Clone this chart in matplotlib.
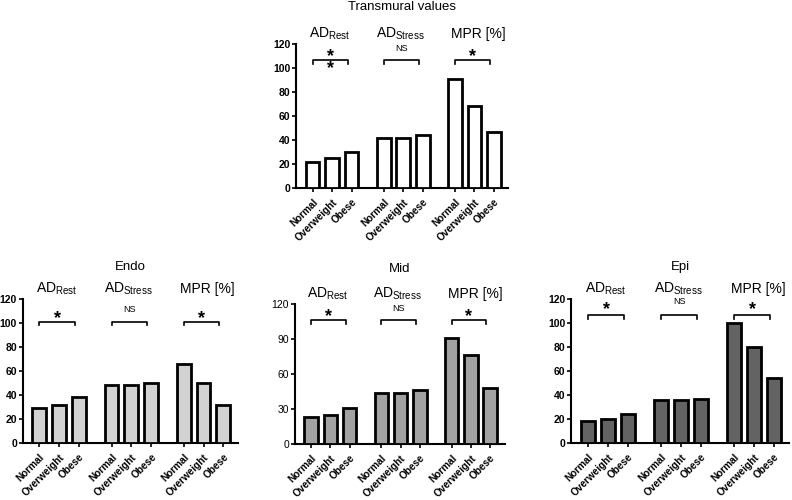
import matplotlib
matplotlib.use("Agg")
import matplotlib.pyplot as plt

plt.rcParams['font.family'] = ['Liberation Sans', 'DejaVu Sans']
plt.rcParams['mathtext.fontset'] = 'custom'
plt.rcParams['mathtext.rm'] = 'Liberation Sans'
plt.rcParams['mathtext.it'] = 'Liberation Sans'

categories = ["Normal", "Overweight", "Obese"]
groups = [r"AD$_{\mathrm{Rest}}$", r"AD$_{\mathrm{Stress}}$", "MPR [%]"]
sig = ["*", "NS", "*"]

transmural = [[22, 25, 30], [42, 42, 44], [91, 68, 46.5]]
endo = [[29, 32, 38], [48, 48, 50], [65.5, 50, 31.5]]
mid = [[23, 25, 31], [44, 44, 46], [91, 76, 48]]
epi = [[18, 20, 24], [36, 36, 37], [100, 80, 54]]

panels = [
    dict(title="Transmural values", data=transmural, color="#ffffff",
         rect=[0.3737, 0.624, 0.2683, 0.288], yticks=[0, 20, 40, 60, 80, 100, 120],
         bold_y=True, br=106.5, star=115, ns=116, tpad=27, double=True),
    dict(title="Endo", data=endo, color="#d2d2d2",
         rect=[0.0285, 0.114, 0.2722, 0.288], yticks=[0, 20, 40, 60, 80, 100, 120],
         bold_y=True, br=101, star=109, ns=111, tpad=23, double=False),
    dict(title="Mid", data=mid, color="#a2a2a2",
         rect=[0.372, 0.112, 0.265, 0.280], yticks=[0, 30, 60, 90, 120],
         bold_y=False, br=106, star=115, ns=116.5, tpad=25, double=False),
    dict(title="Epi", data=epi, color="#636363",
         rect=[0.721, 0.114, 0.2753, 0.288], yticks=[0, 20, 40, 60, 80, 100, 120],
         bold_y=True, br=106.5, star=116.5, ns=117.5, tpad=23, double=False),
]

group_step = 3.65
bar_w = 0.7

fig = plt.figure(figsize=(7.92, 5.0), dpi=100)

for p in panels:
    ax = fig.add_axes(p["rect"])
    xs_all, labels_all = [], []
    for g, vals in enumerate(p["data"]):
        xs = [g * group_step + i for i in range(3)]
        ax.bar(xs, vals, width=bar_w, color=p["color"], edgecolor="black",
               linewidth=2.0, zorder=3)
        xs_all += xs
        labels_all += categories
        # group label
        ax.annotate(groups[g], xy=(xs[1], 1.0), xycoords=("data", "axes fraction"),
                    xytext=(-2 if g < 2 else 3, 4.5), textcoords="offset points",
                    ha="center", va="baseline", fontsize=10, annotation_clip=False)
        # bracket
        x0, x1 = xs[0], xs[2] - 0.2
        y = p["br"]
        ax.plot([x0, x0, x1, x1], [y - 3, y, y, y - 3], color="black",
                linewidth=1.2, clip_on=False, zorder=4)
        xm = (x0 + x1) / 2
        if sig[g] == "*":
            fs = 13
            ys = [p["star"]] + ([105] if p["double"] and g == 0 else [])
            for yc in ys:
                ax.annotate("*", xy=(xm, yc), xytext=(0, -0.6 * fs),
                            textcoords="offset points", ha="center", va="baseline",
                            fontsize=fs, fontweight="bold", annotation_clip=False)
        else:
            ax.text(xm, p["ns"], "NS", ha="center", va="center", fontsize=6.5)
    ax.set_xlim(-0.85, 2 + 2 * group_step + 0.75)
    ax.set_ylim(0, 120)
    ax.set_yticks(p["yticks"])
    ax.set_xticks(xs_all)
    ax.set_xticklabels(labels_all, rotation=45, ha="right", va="top",
                       rotation_mode="anchor", fontsize=7.2, fontweight="bold")
    for lab in ax.get_yticklabels():
        lab.set_fontsize(7.5)
        lab.set_fontweight("bold" if p["bold_y"] else "normal")
    for s in ["top", "right"]:
        ax.spines[s].set_visible(False)
    for s in ["left", "bottom"]:
        ax.spines[s].set_linewidth(1.5)
    ax.tick_params(axis="both", direction="out", length=3, width=1.2)
    ax.tick_params(axis="y", pad=1)
    ax.tick_params(axis="x", pad=3.5)
    ax.annotate(p["title"], xy=(0.5, 1.0), xycoords="axes fraction",
                xytext=(0, p["tpad"]), textcoords="offset points",
                ha="center", va="center", fontsize=9.5, annotation_clip=False)

fig.savefig("out.png", dpi=100)
